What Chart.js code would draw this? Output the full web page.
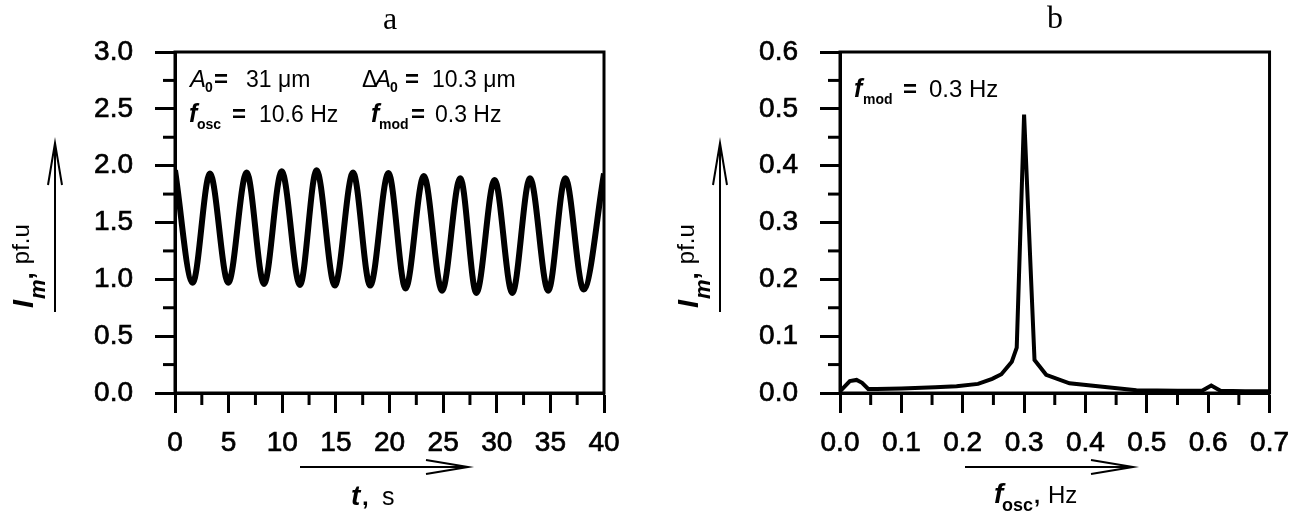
<!DOCTYPE html>
<html>
<head>
<meta charset="utf-8">
<script src="https://cdn.jsdelivr.net/npm/chart.js@4/dist/chart.umd.min.js"></script>
<style>
  body { margin: 0; background: #fff; }
  #wrap { position: relative; width: 1302px; height: 521px; }
  .panel { position: absolute; top: 0; width: 651px; height: 521px; }
</style>
</head>
<body>
<div id="wrap">
  <div class="panel" style="left:0"><canvas id="grA" width="651" height="521"></canvas></div>
  <div class="panel" style="left:651px"><canvas id="grB" width="651" height="521"></canvas></div>
</div>
<script>
// panel a: time signal, extremes
var timeA = [0, 1.65, 3.26, 4.97, 6.68, 8.3, 9.95, 11.65, 13.2, 14.9, 16.6, 18.2, 19.9,
	21.5, 23.2, 24.9, 26.6, 28.1, 29.8, 31.45, 33.1, 34.8, 36.4, 38.1, 40];
var intensA = [1.96, 0.97, 1.93, 0.97, 1.94, 0.96, 1.95, 0.95, 1.96, 0.945, 1.94, 0.945, 1.935,
	0.92, 1.91, 0.90, 1.89, 0.88, 1.875, 0.88, 1.89, 0.90, 1.89, 0.91, 1.93];

// panel b: spectrum
var freqB = [0, 0.016, 0.027, 0.036, 0.046, 0.06, 0.1, 0.155, 0.19, 0.225, 0.248, 0.263, 0.28,
	0.288, 0.30, 0.317, 0.336, 0.374, 0.428, 0.483, 0.55, 0.59, 0.605, 0.62, 0.66, 0.7];
var intensB = [0.003, 0.021, 0.023, 0.018, 0.007, 0.007, 0.008, 0.01, 0.012, 0.016, 0.025, 0.033, 0.055,
	0.08, 0.49, 0.058, 0.032, 0.017, 0.011, 0.005, 0.004, 0.004, 0.013, 0.004, 0.003, 0.003];

var ticksAx = [0, 40, 5];     // min, max, step
var ticksAy = [0, 3, 0.5];
var ticksBx = [0, 0.7, 0.1];
var ticksBy = [0, 0.6, 0.1];

var SANS = '"Liberation Sans", Arial, sans-serif';
var SERIF = '"Liberation Serif", "Times New Roman", serif';

function toXY(xs, ys) {
	var out = [];
	for (var i = 0; i < xs.length; i++) out.push({x: xs[i], y: ys[i]});
	return out;
}

// pieces of text one after another on a baseline
function runs(ctx, x, y, parts) {
	parts.forEach(function(p) {
		ctx.font = p.f;
		ctx.fillText(p.t, x, y + (p.dy || 0));
		x += ctx.measureText(p.t).width + (p.gap || 0);
	});
}

// pieces of text at fixed x positions
function put(ctx, y, parts) {
	parts.forEach(function(p) {
		ctx.font = p.f;
		ctx.fillText(p.t, p.x, y + (p.dy || 0));
	});
}

function arrow(ctx, x1, y1, x2, y2) {
	var ang = Math.atan2(y2 - y1, x2 - x1), L = 42, W = 7;
	ctx.save();
	ctx.strokeStyle = '#000';
	ctx.lineWidth = 2;
	ctx.beginPath();
	ctx.moveTo(x1, y1); ctx.lineTo(x2, y2);
	var bx = x2 - L * Math.cos(ang), by = y2 - L * Math.sin(ang);
	ctx.moveTo(bx - W * Math.sin(ang), by + W * Math.cos(ang));
	ctx.lineTo(x2, y2);
	ctx.lineTo(bx + W * Math.sin(ang), by - W * Math.cos(ang));
	ctx.stroke();
	ctx.restore();
}

function minorTicks(chart, id, range, len) {
	var s = chart.scales[id], a = chart.chartArea, ctx = chart.ctx;
	ctx.save();
	ctx.strokeStyle = '#000';
	ctx.lineWidth = 3;
	for (var v = range[0] + range[2] / 2; v < range[1]; v += range[2]) {
		var p = s.getPixelForValue(v);
		ctx.beginPath();
		if (s.isHorizontal()) { ctx.moveTo(p, a.bottom); ctx.lineTo(p, a.bottom + len); }
		else { ctx.moveTo(a.left, p); ctx.lineTo(a.left - len, p); }
		ctx.stroke();
	}
	ctx.restore();
}

function yTitle(ctx, x, y) {
	ctx.save();
	ctx.translate(x, y);
	ctx.rotate(-Math.PI / 2);
	ctx.fillStyle = '#000';
	runs(ctx, 0, 0, [
		{t: 'I', f: 'italic bold 29px ' + SANS, gap: 1},
		{t: 'm', f: 'italic bold 22px ' + SANS, dy: 12},
		{t: ',', f: 'bold 26px ' + SANS, gap: 8},
		{t: 'pf.u', f: '24px ' + SANS, dy: -4}
	]);
	ctx.restore();
}

function frameAndExtras(opts) {
	return {
		id: 'extras',
		afterDraw: function(chart) {
			var ctx = chart.ctx, a = chart.chartArea;
			ctx.save();
			ctx.strokeStyle = '#000';
			ctx.lineWidth = 3;
			ctx.strokeRect(a.left, a.top, a.right - a.left, a.bottom - a.top);
			ctx.restore();
			minorTicks(chart, 'x', opts.rx, 12);
			minorTicks(chart, 'y', opts.ry, 12);
			ctx.save();
			ctx.fillStyle = '#000';
			ctx.textBaseline = 'alphabetic';
			opts.draw(ctx);
			ctx.restore();
		}
	};
}

function makeOptions(rx, ry, yWidth, padRight, yFmt, xFmt) {
	var tickFont = {family: SANS, size: 28};
	return {
		responsive: false,
		devicePixelRatio: 1,
		animation: false,
		layout: {padding: {left: 0, top: 52, right: padRight, bottom: 0}},
		plugins: {legend: {display: false}, tooltip: {enabled: false}},
		scales: {
			x: {
				type: 'linear', min: rx[0], max: rx[1],
				afterFit: function(s) { s.height = 128; },
				ticks: {stepSize: rx[2], autoSkip: false, maxRotation: 0, color: '#000', font: tickFont, padding: 13,
					textStrokeColor: '#000', textStrokeWidth: 0.7, callback: xFmt},
				grid: {drawOnChartArea: false, tickLength: 20, tickWidth: 3, tickColor: '#000'},
				border: {color: '#000', width: 3}
			},
			y: {
				type: 'linear', min: ry[0], max: ry[1],
				afterFit: function(s) { s.width = yWidth; },
				ticks: {stepSize: ry[2], autoSkip: false, color: '#000', font: tickFont, padding: 22,
					textStrokeColor: '#000', textStrokeWidth: 0.7, callback: yFmt},
				grid: {drawOnChartArea: false, tickLength: 20, tickWidth: 3, tickColor: '#000'},
				border: {color: '#000', width: 3}
			}
		}
	};
}

var fmt1 = function(v) { return Number(v).toFixed(1); };
var fmt0 = function(v) { return String(Math.round(v)); };

var IT = 'italic 24px ' + SANS, FB = 'italic bold 25px ' + SANS, SUB = 'bold 14px ' + SANS,
	EQ = 'bold 24px ' + SANS, TX = '23px ' + SANS;

new Chart(document.getElementById('grA').getContext('2d'), {
	type: 'line',
	data: {
		datasets: [{
			data: toXY(timeA, intensA),
			borderColor: '#000',
			borderWidth: 6,
			pointRadius: 0,
			cubicInterpolationMode: 'monotone',
			fill: false
		}]
	},
	options: makeOptions(ticksAx, ticksAy, 175, 47, fmt1, fmt0),
	plugins: [frameAndExtras({
		rx: ticksAx, ry: ticksAy,
		draw: function(ctx) {
			ctx.font = '32px ' + SERIF;
			ctx.textAlign = 'center';
			ctx.fillText('a', 390, 29);
			ctx.textAlign = 'left';
			put(ctx, 87, [
				{t: 'A', f: IT, x: 190}, {t: '0', f: SUB, x: 205, dy: 5}, {t: '=', f: EQ, x: 214}, {t: '31 \u03bcm', f: TX, x: 246},
				{t: '\u0394', f: '23px ' + SANS, x: 362}, {t: 'A', f: IT, x: 375}, {t: '0', f: SUB, x: 390, dy: 5},
				{t: '=', f: EQ, x: 405}, {t: '10.3 \u03bcm', f: TX, x: 432}
			]);
			put(ctx, 122, [
				{t: 'f', f: FB, x: 189}, {t: 'osc', f: SUB, x: 197, dy: 7}, {t: '=', f: EQ, x: 232}, {t: '10.6 Hz', f: TX, x: 259},
				{t: 'f', f: FB, x: 371}, {t: 'mod', f: SUB, x: 379, dy: 7}, {t: '=', f: EQ, x: 411}, {t: '0.3 Hz', f: TX, x: 435}
			]);
			put(ctx, 505, [
				{t: 't', f: 'italic bold 28px ' + SANS, x: 351}, {t: ',', f: 'bold 24px ' + SANS, x: 362}, {t: 's', f: '25px ' + SANS, x: 382}
			]);
			arrow(ctx, 300, 467, 468, 467);
			arrow(ctx, 55, 312, 55, 143);
			yTitle(ctx, 33, 308);
		}
	})]
});

new Chart(document.getElementById('grB').getContext('2d'), {
	type: 'line',
	data: {
		datasets: [{
			data: toXY(freqB, intensB),
			borderColor: '#000',
			borderWidth: 4,
			pointRadius: 0,
			tension: 0,
			fill: false
		}]
	},
	options: makeOptions(ticksBx, ticksBy, 189, 32, fmt1, fmt1),
	plugins: [frameAndExtras({
		rx: ticksBx, ry: ticksBy,
		draw: function(ctx) {
			ctx.font = '32px ' + SERIF;
			ctx.textAlign = 'center';
			ctx.fillText('b', 404, 28);
			ctx.textAlign = 'left';
			put(ctx, 97, [
				{t: 'f', f: FB, x: 203}, {t: 'mod', f: SUB, x: 212, dy: 7}, {t: '=', f: EQ, x: 252}, {t: '0.3 Hz', f: '24px ' + SANS, x: 278}
			]);
			put(ctx, 503, [
				{t: 'f', f: 'italic bold 28px ' + SANS, x: 343}, {t: 'osc', f: 'bold 18px ' + SANS, x: 351, dy: 8},
				{t: ',', f: 'bold 22px ' + SANS, x: 383}, {t: 'Hz', f: '24px ' + SANS, x: 397}
			]);
			arrow(ctx, 314, 467, 482, 467);
			arrow(ctx, 69, 312, 69, 143);
			yTitle(ctx, 47, 308);
		}
	})]
});
</script>
</body>
</html>
